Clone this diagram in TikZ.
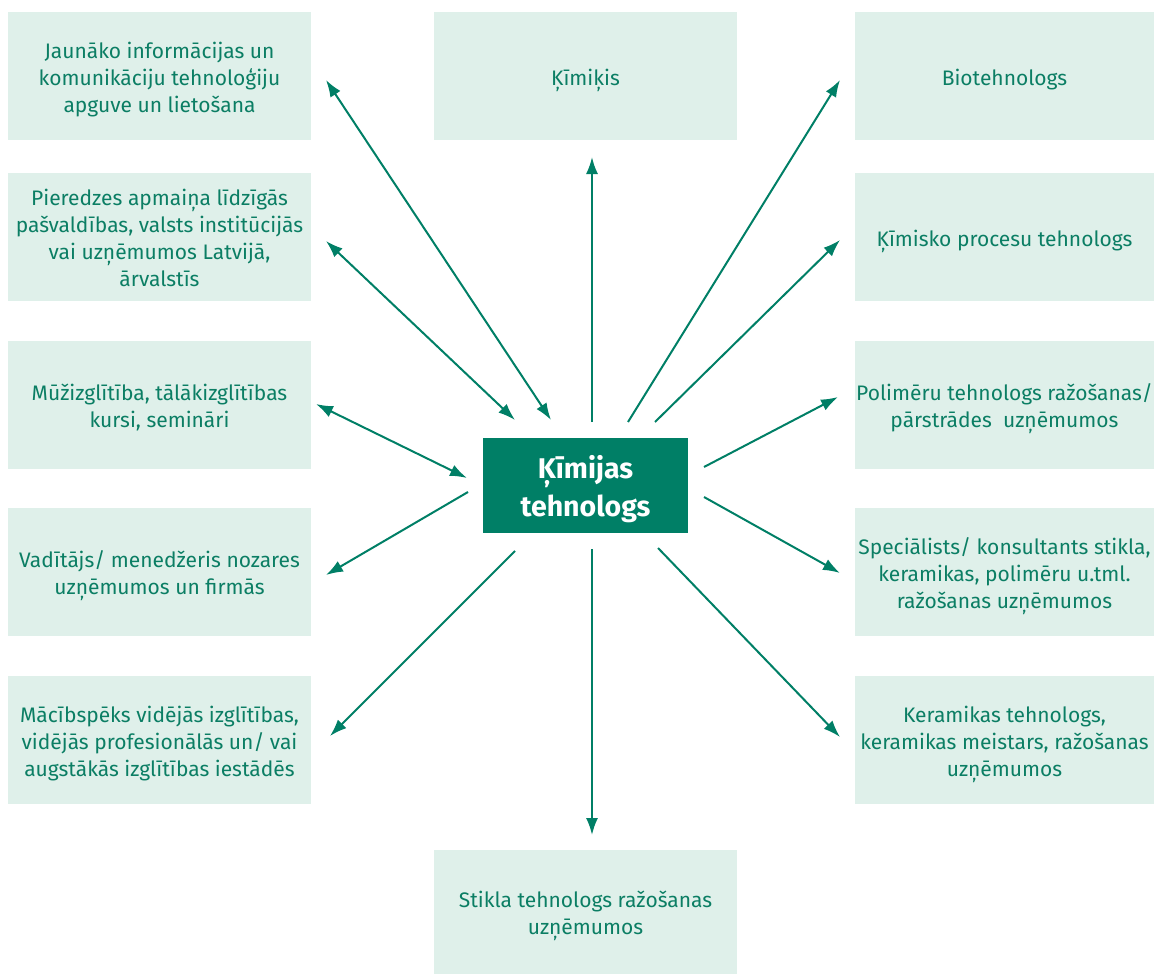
\documentclass[tikz,border=0pt]{standalone}
\usepackage{fontspec}
\setmainfont{Fira Sans}
\usetikzlibrary{arrows.meta}
\definecolor{dg}{HTML}{007F66}
\definecolor{lg}{HTML}{DFF0EA}
\definecolor{tg}{HTML}{0B7E64}
\newcommand\tb[1]{\raisebox{0pt}[\dimexpr\height+8pt\relax][\depth]{\begin{tabular}{@{}c@{}}#1\end{tabular}}}
\begin{document}
\begin{tikzpicture}[x=1pt,y=-1pt,
  box/.style={fill=lg, minimum width=303pt, minimum height=128pt, text=tg, inner sep=0pt, font=\fontsize{21}{27}\selectfont},
  hub/.style={fill=dg, minimum width=205pt, minimum height=95pt, text=white, inner sep=0pt, font=\fontsize{28.5}{38}\selectfont\bfseries},
  ah/.tip={Latex[length=17pt,width=12pt]},
  dbl/.style={draw=dg, line width=2pt, ah-ah},
  one/.style={draw=dg, line width=2pt, -ah}]
\useasboundingbox (0,0) rectangle (1154,974);
% left column
\node[box] (l1) at (159.5,76) {\tb{Jaunāko informācijas un\\komunikāciju tehnoloģiju\\apguve un lietošana}};
\node[box] (l2) at (159.5,237) {\tb{Pieredzes apmaiņa līdzīgās\\pašvaldības, valsts institūcijās\\vai uzņēmumos Latvijā,\\ārvalstīs}};
\node[box] (l3) at (159.5,405) {\tb{Mūžizglītība, tālākizglītības\\kursi, semināri}};
\node[box] (l4) at (159.5,572) {\tb{Vadītājs/ menedžeris nozares\\uzņēmumos un firmās}};
\node[box] (l5) at (159.5,740) {\tb{Mācībspēks vidējās izglītības,\\vidējās profesionālās un/ vai\\augstākās izglītības iestādēs}};
% center column
\node[box] (c1) at (585.5,76) {\tb{Ķīmiķis}};
\node[box, minimum height=124pt] (c2) at (585.5,912) {\tb{Stikla tehnologs ražošanas\\uzņēmumos}};
% right column
\node[box, minimum width=299pt] (r1) at (1004.5,76) {\tb{Biotehnologs}};
\node[box, minimum width=299pt] (r2) at (1004.5,237) {\tb{Ķīmisko procesu tehnologs}};
\node[box, minimum width=299pt] (r3) at (1004.5,405) {\tb{Polimēru tehnologs ražošanas/\\pārstrādes\ \ uzņēmumos}};
\node[box, minimum width=299pt] (r4) at (1004.5,572) {\tb{Speciālists/ konsultants stikla,\\keramikas, polimēru u.tml.\\ražošanas uzņēmumos}};
\node[box, minimum width=299pt] (r5) at (1004.5,740) {\tb{Keramikas tehnologs,\\keramikas meistars, ražošanas\\uzņēmumos}};
% hub
\node[hub] (h) at (585.5,485.5) {\tb{Ķīmijas\\tehnologs}};
% connector end points
\coordinate (a1) at (326,80);  \coordinate (b1) at (551,420);
\coordinate (a2) at (326,241); \coordinate (b2) at (515,420);
\coordinate (a3) at (316,404); \coordinate (b3) at (467,478);
\coordinate (a4) at (326,575); \coordinate (b4) at (468,492);
\coordinate (a5) at (330,736); \coordinate (b5) at (515,551);
\coordinate (a6) at (592,835); \coordinate (b6) at (592,549);
\coordinate (a7) at (592,157); \coordinate (b7) at (592,422);
\coordinate (a8) at (840,80);  \coordinate (b8) at (628,422);
\coordinate (a9) at (840,240); \coordinate (b9) at (655,422);
\coordinate (a10) at (838,397); \coordinate (b10) at (704,467);
\coordinate (a11) at (840,573); \coordinate (b11) at (704,497);
\coordinate (a12) at (840,737); \coordinate (b12) at (658,548);
\draw[dbl] (a1) -- (b1);
\draw[dbl] (a2) -- (b2);
\draw[dbl] (a3) -- (b3);
\draw[one] (b4) -- (a4);
\draw[one] (b5) -- (a5);
\draw[one] (b6) -- (a6);
\draw[one] (b7) -- (a7);
\draw[one] (b8) -- (a8);
\draw[one] (b9) -- (a9);
\draw[one] (b10) -- (a10);
\draw[one] (b11) -- (a11);
\draw[one] (b12) -- (a12);
\end{tikzpicture}
\end{document}
